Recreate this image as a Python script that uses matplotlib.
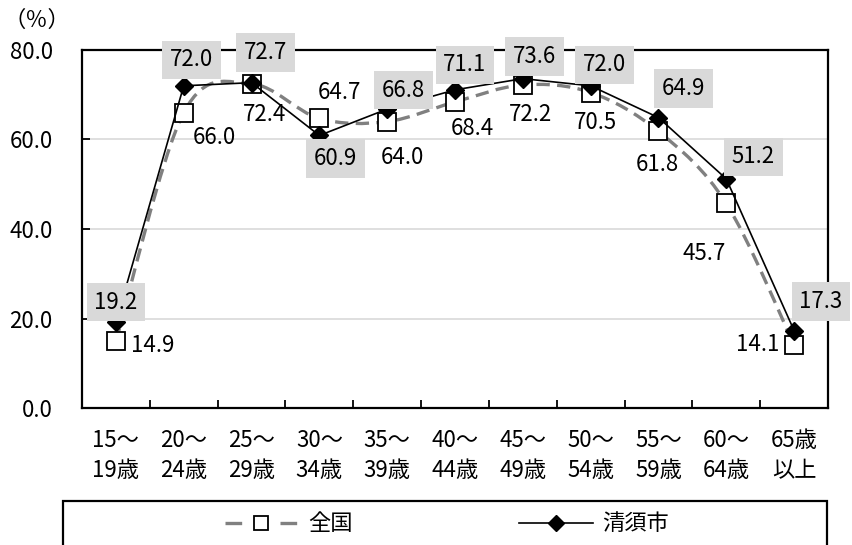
import matplotlib
matplotlib.use("Agg")
import matplotlib.pyplot as plt
from matplotlib.path import Path
from matplotlib.patches import PathPatch, Rectangle
from matplotlib.lines import Line2D

plt.rcParams['font.family'] = ['Noto Sans CJK JP', 'DejaVu Sans']

categories = ["15～\n19歳", "20～\n24歳", "25～\n29歳", "30～\n34歳", "35～\n39歳",
              "40～\n44歳", "45～\n49歳", "50～\n54歳", "55～\n59歳", "60～\n64歳", "65歳\n以上"]
national = [14.9, 66.0, 72.4, 64.7, 64.0, 68.4, 72.2, 70.5, 61.8, 45.7, 14.1]
kiyosu = [19.2, 72.0, 72.7, 60.9, 66.8, 71.1, 73.6, 72.0, 64.9, 51.2, 17.3]

# label offsets in pixels (dx, dy) relative to each point
national_offsets = [(37, -4), (31, -25), (13, -30), (20, 26), (15, -36), (17, -27),
                    (8, -30), (5, -30), (-1, -33), (-22, -50), (-36, 0)]
kiyosu_offsets = [(0, 20), (8, 26), (14, 30), (16, -23), (16, 19), (10, 25),
                  (12, 22), (14, 21), (25, 29), (27, 22), (27, 29)]

FS = 16
fig = plt.figure(figsize=(8.53, 5.45), dpi=100)
ax = fig.add_axes([82/853, 1-408/545, 746/853, 358/545])

x = list(range(len(categories)))

# smoothed (Catmull-Rom Bezier) path for the national series
verts = [(x[0], national[0])]
codes = [Path.MOVETO]
n = len(x)
for i in range(n - 1):
    p0 = (x[max(i-1, 0)], national[max(i-1, 0)])
    p1 = (x[i], national[i])
    p2 = (x[i+1], national[i+1])
    p3 = (x[min(i+2, n-1)], national[min(i+2, n-1)])
    c1 = (p1[0] + (p2[0]-p0[0])/6, p1[1] + (p2[1]-p0[1])/6)
    c2 = (p2[0] - (p3[0]-p1[0])/6, p2[1] - (p3[1]-p1[1])/6)
    verts += [c1, c2, p2]
    codes += [Path.CURVE4]*3
gray = '#808080'
ax.add_patch(PathPatch(Path(verts, codes), facecolor='none', edgecolor=gray,
                       lw=2.4, linestyle=(0, (4, 2.2)), zorder=2))
ax.plot(x, national, linestyle='none', marker='s', markersize=13, markerfacecolor='white',
        markeredgecolor='black', markeredgewidth=1.3, zorder=2.2)
ax.plot(x, kiyosu, color='black', lw=1.2, marker='D', markersize=9.5,
        markerfacecolor='black', markeredgecolor='black', zorder=2.5)

for xi, v, (dx, dy) in zip(x, national, national_offsets):
    ax.annotate(f"{v:.1f}", (xi, v), xytext=(dx, dy), textcoords='offset pixels',
                ha='center', va='center', fontsize=FS, zorder=4)
for xi, v, (dx, dy) in zip(x, kiyosu, kiyosu_offsets):
    ax.annotate(f"{v:.1f}", (xi, v), xytext=(dx, dy), textcoords='offset pixels',
                ha='center', va='center', fontsize=FS, zorder=4,
                bbox=dict(boxstyle='square,pad=0.35', facecolor='#d9d9d9', edgecolor='none'))

ax.set_xlim(-0.5, n - 0.5)
ax.set_ylim(0, 80)
ax.set_yticks([0, 20, 40, 60, 80])
ax.set_yticklabels([f"{t:.1f}" for t in [0, 20, 40, 60, 80]], fontsize=FS)
ax.yaxis.grid(True, color='#d9d9d9', lw=1.2)
ax.set_axisbelow(True)
ax.set_xticks([i + 0.5 for i in range(n - 1)])
ax.set_xticklabels([])
ax.set_xticks(x, minor=True)
ax.set_xticklabels(categories, minor=True, fontsize=FS, linespacing=1.4)
ax.tick_params(axis='x', which='major', direction='in', length=6, width=1.3)
ax.tick_params(axis='x', which='minor', length=0, pad=15)
ax.tick_params(axis='y', direction='in', length=6, width=1.3, pad=21)
for s in ax.spines.values():
    s.set_linewidth(1.6)
    s.set_color('black')

fig.text(37/853, 1-20/545, "（％）", ha='center', va='center', fontsize=FS)

# legend frame and entries
fig.add_artist(Rectangle((63/853, -0.05), 764/853, 0.05 + 44/545, transform=fig.transFigure,
                         facecolor='white', edgecolor='black', lw=1.6))
h1 = Line2D([], [], color=gray, lw=2.4, linestyle=(0, (5, 11.5)), marker='s', markersize=10,
            markerfacecolor='white', markeredgecolor='black', markeredgewidth=1.3)
h2 = Line2D([], [], color='black', lw=1.2, marker='D', markersize=8,
            markerfacecolor='black', markeredgecolor='black')
fig.legend([h1, h2], ["全国", "清須市"], loc='center', bbox_to_anchor=(447/853, 1-524/545),
           ncol=2, frameon=False, fontsize=FS, handlelength=3.3, columnspacing=7.5,
           handletextpad=0.45)

fig.savefig("out.png", dpi=100)
